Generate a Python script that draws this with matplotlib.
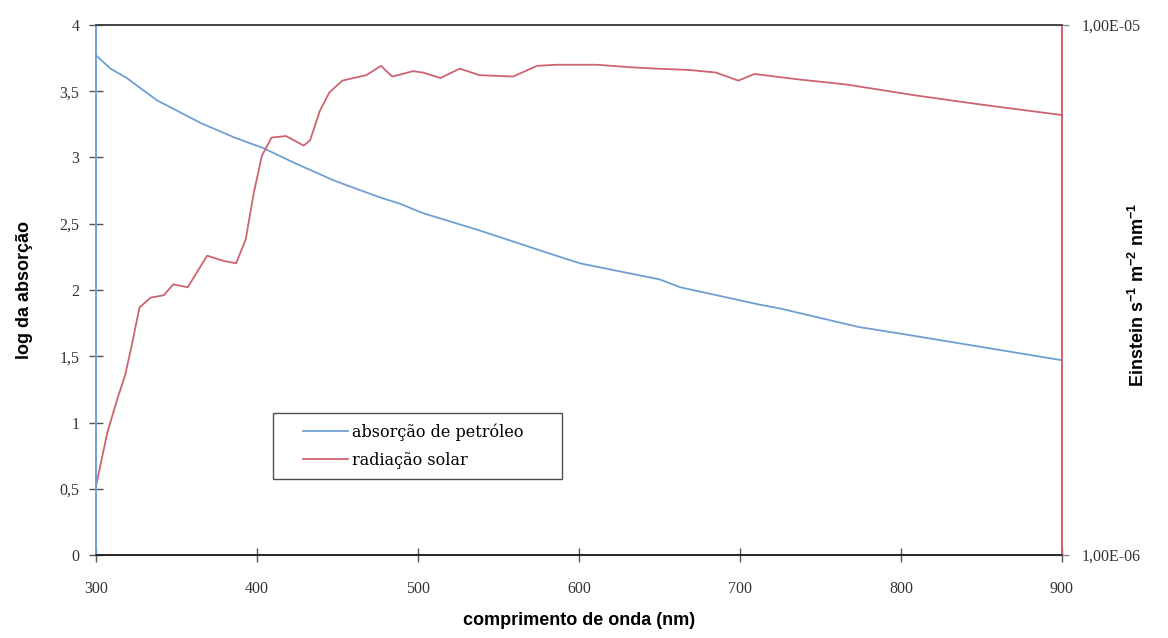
import matplotlib
matplotlib.use("Agg")
import matplotlib.pyplot as plt
from matplotlib.ticker import FixedLocator, FuncFormatter
from matplotlib.legend_handler import HandlerLine2D

# absorção de petróleo (log da absorção)
wl_abs = [300, 309, 319, 338, 365, 386, 404, 423, 447, 458, 476, 489, 503, 538,
          588, 601, 650, 663, 712, 725, 774, 800, 850, 900]
log_abs = [3.77, 3.67, 3.60, 3.43, 3.26, 3.15, 3.07, 2.96, 2.83, 2.78, 2.70, 2.65,
           2.58, 2.45, 2.25, 2.20, 2.08, 2.02, 1.89, 1.86, 1.72, 1.67, 1.57, 1.47]

# radiação solar (Einstein s-1 m-2 nm-1)
wl_sol = [300, 307, 313, 318, 322, 327, 334, 342, 348, 357, 369, 379, 387, 393,
          398, 403, 409, 418, 429, 433, 439, 445, 453, 468, 477, 484, 497, 503,
          514, 526, 538, 559, 574, 586, 611, 632, 648, 669, 685, 699, 709, 735,
          766, 808, 849, 900]
sol = [1.35, 1.70, 1.96, 2.18, 2.47, 2.93, 3.06, 3.09, 3.24, 3.20, 3.67, 3.59,
       3.55, 3.94, 4.82, 5.66, 6.13, 6.17, 5.92, 6.06, 6.88, 7.46, 7.85, 8.04,
       8.37, 7.99, 8.18, 8.13, 7.94, 8.27, 8.04, 7.99, 8.37, 8.41, 8.41, 8.32,
       8.27, 8.22, 8.13, 7.85, 8.08, 7.90, 7.72, 7.37, 7.08, 6.76]
sol = [v * 1e-6 for v in sol]

x_ticks = [300, 400, 500, 600, 700, 800, 900]
y_ticks = [0, 0.5, 1, 1.5, 2, 2.5, 3, 3.5, 4]

blue = "#6f9fd2"
red = "#cc6470"
serif = "Liberation Serif"
sans = "Liberation Sans"

plt.rcParams["mathtext.fontset"] = "custom"
plt.rcParams["mathtext.rm"] = "Liberation Sans:bold"
plt.rcParams["mathtext.bf"] = "Liberation Sans:bold"

fig = plt.figure(figsize=(11.68, 6.38), dpi=100)
ax = fig.add_axes([0.0822, 0.130, 0.827, 0.831])
ax2 = ax.twinx()

l1, = ax.plot(wl_abs, log_abs, color=blue, lw=1.3, label="absorção de petróleo")
l2, = ax2.plot(wl_sol, sol, color=red, lw=1.3, label="radiação solar")

ax.set_xlim(300, 900)
ax.set_ylim(0, 4)
ax2.set_yscale("log")
ax2.set_ylim(1e-6, 1e-5)

ax.xaxis.set_major_locator(FixedLocator(x_ticks))
ax.yaxis.set_major_locator(FixedLocator(y_ticks))
ax.yaxis.set_major_formatter(FuncFormatter(lambda v, p: f"{v:g}".replace(".", ",")))
ax2.yaxis.set_major_locator(FixedLocator([1e-6, 1e-5]))
ax2.yaxis.set_minor_locator(FixedLocator([]))
ax2.yaxis.set_major_formatter(FuncFormatter(lambda v, p: f"{v:.2E}".replace(".", ",")))

for a in (ax, ax2):
    a.spines["top"].set_color("#444444")
    a.spines["bottom"].set_color("#222222")
    a.spines["left"].set_color(blue)
    a.spines["right"].set_color(red)
    for s in a.spines.values():
        s.set_linewidth(1.2)

ax.tick_params(axis="both", direction="inout", length=10, width=1, color="#555555",
               labelsize=11.5, labelcolor="#333333", pad=7)
ax.tick_params(axis="x", pad=14)
ax2.tick_params(axis="y", direction="inout", length=10, width=1, color="#888888",
                labelsize=11.5, labelcolor="#333333", pad=9)
for lab in ax.get_xticklabels() + ax.get_yticklabels() + ax2.get_yticklabels():
    lab.set_family(serif)

ax.set_xlabel("comprimento de onda (nm)", fontsize=13, fontweight="bold", family=sans)
ax.set_ylabel("log da absorção", fontsize=13, fontweight="bold", family=sans)
ax2.set_ylabel(r"Einstein s$^{-1}$ m$^{-2}$ nm$^{-1}$", fontsize=13,
               fontweight="bold", family=sans)
ax.xaxis.set_label_coords(0.5, -0.108)
ax.yaxis.set_label_coords(-0.065, 0.5)
ax2.yaxis.set_label_coords(1.068, 0.49)

leg = ax.legend(handles=[l1, l2], loc="lower left",
                bbox_to_anchor=(0.183, 0.143, 0.299, 0), mode="expand",
                prop={"family": "DejaVu Serif", "size": 11.5}, fancybox=False,
                edgecolor="#222222", handlelength=4.05, borderpad=0.65,
                borderaxespad=0, labelspacing=0.7, handletextpad=0.25,
                handler_map={l1: HandlerLine2D(xpad=1.25), l2: HandlerLine2D(xpad=1.25)})
leg.get_frame().set_linewidth(1.0)
ax2.set_zorder(0)

fig.savefig("out.png", dpi=100)
